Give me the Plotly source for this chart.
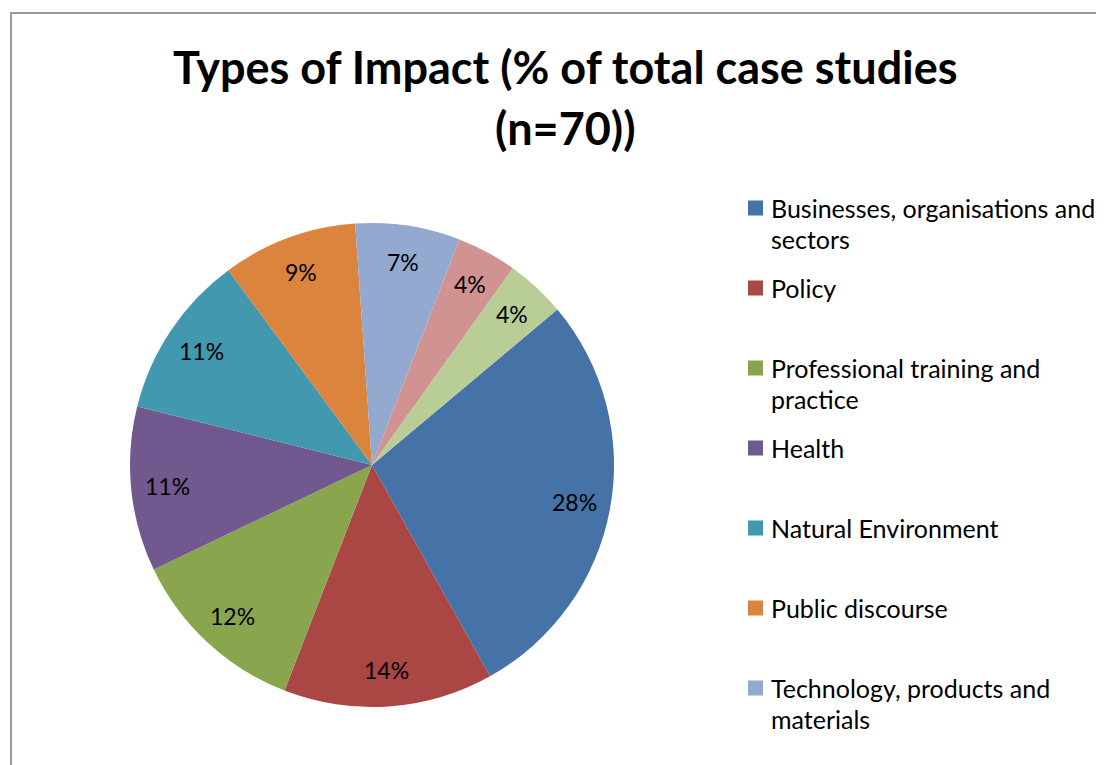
import math
import plotly.graph_objects as go

W, H = 1104, 765

title_lines = ["Types of Impact (% of total case studies", "(n=70))"]
labels = [
    "Businesses, organisations and sectors",
    "Policy",
    "Professional training and practice",
    "Health",
    "Natural Environment",
    "Public discourse",
    "Technology, products and materials",
    "Cultural life",
    "Education",
]
legend_lines = [
    ["Businesses, organisations and", "sectors"],
    ["Policy"],
    ["Professional training and", "practice"],
    ["Health"],
    ["Natural Environment"],
    ["Public discourse"],
    ["Technology, products and", "materials"],
]
values = [28, 14, 12, 11, 11, 9, 7, 4, 4]
colors = ["#4572A7", "#AA4643", "#89A54E", "#71588F", "#4198AF",
          "#DB843D", "#93A9CF", "#D19392", "#B9CD96"]

FONT = "Lato"
ROTATION = 50          # degrees clockwise from 12 o'clock where first slice starts
PAGE_OFF = 8           # body margin of the html page

# pie geometry in page pixels
CX, CY, R = 372, 465, 242
LABEL_R = 0.85


def px(x):
    return (x - PAGE_OFF) / W


def py(y):
    return 1 - (y - PAGE_OFF) / H


fig = go.Figure()
fig.add_trace(go.Pie(
    labels=labels,
    values=values,
    marker=dict(colors=colors, line=dict(width=0)),
    sort=False,
    direction="clockwise",
    rotation=ROTATION,
    textinfo="none",
    domain=dict(x=[px(CX - R), px(CX + R)], y=[py(CY + R), py(CY - R)]),
    showlegend=False,
    hoverinfo="label+percent",
))

annotations = []
# title
for j, line in enumerate(title_lines):
    annotations.append(dict(
        text="<b>" + line + "</b>", x=px(565), y=py(67 + 61 * j),
        xref="paper", yref="paper", xanchor="center", yanchor="middle",
        showarrow=False, font=dict(family=FONT, size=45, color="black")))

# percent labels, placed at the middle angle of each slice
total = sum(values)
cum = 0
for v in values:
    mid = math.radians(ROTATION + 360 * (cum + v / 2) / total)
    cum += v
    lx = CX + LABEL_R * R * math.sin(mid)
    ly = CY - LABEL_R * R * math.cos(mid)
    annotations.append(dict(
        text=f"{round(100 * v / total)}%", x=px(lx), y=py(ly),
        xref="paper", yref="paper", xanchor="center", yanchor="middle",
        showarrow=False, font=dict(family=FONT, size=23, color="black")))

shapes = [dict(type="rect", xref="paper", yref="paper",
               x0=px(11), y0=py(H + 30), x1=px(W + 30), y1=py(13),
               line=dict(color="#999999", width=2), fillcolor="rgba(0,0,0,0)")]

for i, lines in enumerate(legend_lines):
    y0 = 208 + 80 * i
    shapes.append(dict(type="rect", xref="paper", yref="paper",
                       x0=px(748), x1=px(763), y0=py(y0 + 7.5), y1=py(y0 - 7.5),
                       fillcolor=colors[i], line=dict(width=0)))
    for j, line in enumerate(lines):
        annotations.append(dict(
            text=line, x=px(769), y=py(y0 + 31 * j),
            xref="paper", yref="paper", xanchor="left", yanchor="middle",
            showarrow=False, font=dict(family=FONT, size=25, color="black")))

fig.update_layout(
    width=W, height=H,
    margin=dict(l=0, r=0, t=0, b=0),
    paper_bgcolor="white",
    plot_bgcolor="white",
    annotations=annotations,
    shapes=shapes,
    showlegend=False,
)

fig.write_html("out.html")
